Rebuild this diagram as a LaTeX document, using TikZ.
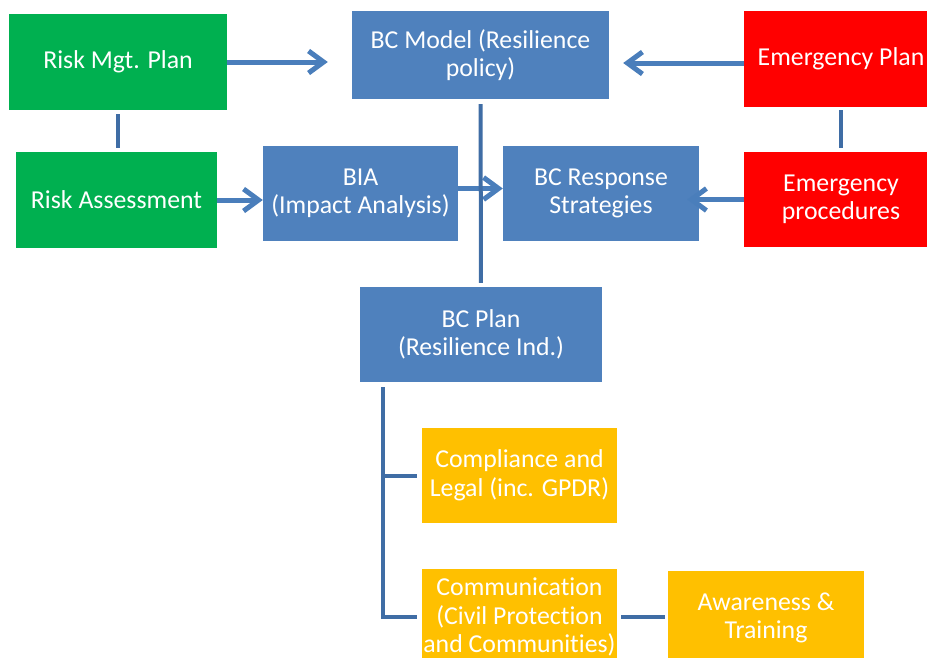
\documentclass[tikz,border=0pt]{standalone}
\usepackage{fontspec}
\setmainfont[Ligatures=NoCommon]{Carlito}
\usetikzlibrary{arrows.meta}
\definecolor{riskgreen}{HTML}{00B050}
\definecolor{bcblue}{HTML}{4F81BD}
\definecolor{emred}{HTML}{FF0000}
\definecolor{planyellow}{HTML}{FFC000}
\definecolor{pilblue}{HTML}{4A7EBB}
\definecolor{lnkblue}{HTML}{3F6DA5}
\tikzset{
    %Define standard arrow tip
    >={Straight Barb[length=15pt,width=22pt]},
    % Define arrow style
    pil/.style={
           ->,
           line width=5pt,
           draw=pilblue,},
    % Define plain link style
    lnk/.style={
           line width=4pt,
           draw=lnkblue,}
}

\begin{document}
\begin{tikzpicture}[x=1pt,y=-1pt,
box/.style={rectangle, inner sep=0pt, text=white, align=center, font=\fontsize{25.8}{28.5}\selectfont},
greenbox/.style={box, fill=riskgreen},
bluebox/.style={box, fill=bcblue},
redbox/.style={box, fill=emred},
yellowbox/.style={box, fill=planyellow},
]
\useasboundingbox (0,0) rectangle (927,657);
\clip (0,0) rectangle (927,657);
%Nodes
\node[greenbox, minimum width=218pt, minimum height=96pt](rmp) at (118,62){Risk Mgt. Plan};
\node[bluebox, minimum width=257pt, minimum height=88pt](bcm) at (480.5,55){BC Model (Resilience\\policy)};
\node[redbox, minimum width=194pt, minimum height=96pt](emp) at (841,59){Emergency Plan};

\node[greenbox, minimum width=201pt, minimum height=96pt](ra) at (116.5,200){Risk Assessment};
\node[bluebox, minimum width=195pt, minimum height=95pt](bia) at (360.5,193.5){BIA\\(Impact Analysis)};
\node[bluebox, minimum width=196pt, minimum height=95pt](bcr) at (601,193.5){BC Response\\Strategies};
\node[redbox, minimum width=194pt, minimum height=95pt](eproc) at (841,199.5){Emergency\\procedures};

\node[bluebox, minimum width=242pt, minimum height=95pt](bcp) at (481,334.5){BC Plan\\(Resilience Ind.)};

\node[yellowbox, minimum width=195pt, minimum height=95pt](cmp) at (519.5,475.5){Compliance and\\Legal (inc. GPDR)};
\node[yellowbox, minimum width=195pt, minimum height=96pt](com) at (519.5,617){Communication\\(Civil Protection\\and Communities)};
\node[yellowbox, minimum width=196pt, minimum height=94pt](awr) at (766,618){Awareness \&\\Training};

%Helper points
\coordinate (ep-out) at ([yshift=-4pt]emp.west);
\coordinate (bia-out) at ([yshift=5pt]bia.east);
\coordinate (fork) at ([xshift=23pt,yshift=-5pt]bcp.south west);

%Arrows
\draw[pil, shorten >=24pt] (rmp.east) -- (rmp.east -| bcm.west);
\draw[pil, shorten >=14pt] (ep-out) -- (ep-out -| bcm.east);
\draw[pil] (ra.east) -- (ra.east -| bia.west);
\draw[pil] (bia-out) -- (bia-out -| bcr.west);
\draw[pil, shorten >=-12pt] (eproc.west) -- (eproc.west -| bcr.east);

%Links
\draw[lnk, shorten <=4pt, shorten >=4pt] (rmp.south) -- (rmp.south |- ra.north);
\draw[lnk, shorten <=3pt, shorten >=4pt] (emp.south) -- (eproc.north);
\draw[lnk, shorten <=5pt, shorten >=4pt] (bcm.south) -- (bcp.north);
\draw[lnk] (fork) |- ([xshift=-5pt]com.west);
\draw[lnk] (fork |- cmp.west) -- ([xshift=-5pt]cmp.west);
\draw[lnk, shorten <=4pt, shorten >=3pt] (com.east) -- (com.east -| awr.west);

\end{tikzpicture}
\end{document}
